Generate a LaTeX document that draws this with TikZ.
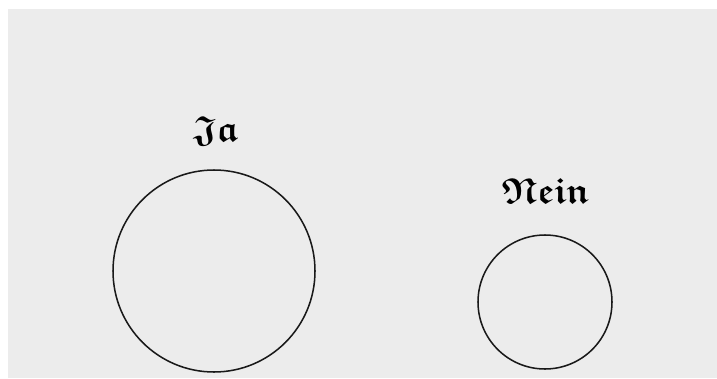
\documentclass[tikz,border=0pt]{standalone}
\usepackage{amsmath,amssymb}
\usepackage{tikz}
\definecolor{paper}{RGB}{236,236,236}
\def\frk#1{$\boldsymbol{\mathfrak{#1}}$}
\tikzset{ring/.style={line width=1.3pt,draw=black!90},
  answer/.style={anchor=base,inner sep=0pt,font=\fontsize{31}{36}\selectfont}}

\begin{document}
\begin{tikzpicture}[x=0.03cm,y=0.03cm]
    \useasboundingbox (0,0) rectangle (717,378);
    \fill[white] (0,0) rectangle (717,378);
    \fill[paper] (8,0) rectangle (717,369);
    % left circle
    \draw[ring] (214,107) circle (101);
    \node[answer] (ja) at (216,237) {\frk{Ja}};
    % right circle
    \draw[ring] (545,76) circle (67);
    \node[answer] (nein) at (546,175) {\frk{Nein}};
\end{tikzpicture}
\end{document}
